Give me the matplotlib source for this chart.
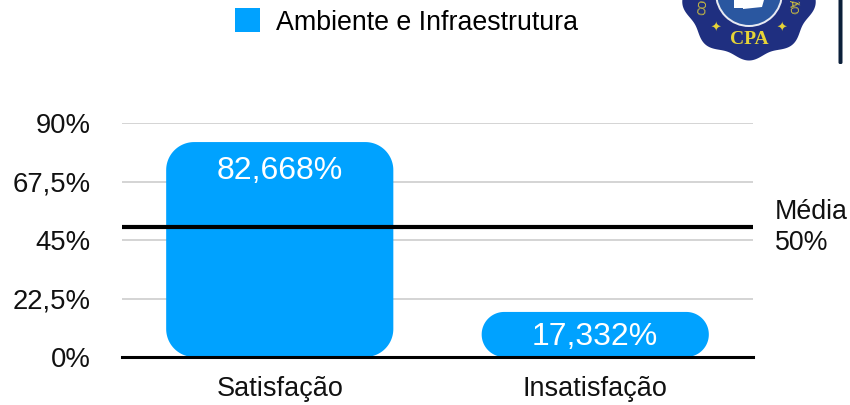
# plot.py
import numpy as np
import matplotlib

matplotlib.use('Agg')
import matplotlib.pyplot as plt
from matplotlib.patches import FancyBboxPatch, Patch, Circle, Polygon, Rectangle

plt.rcParams['font.family'] = ['Liberation Sans', 'DejaVu Sans']

categories = ["Satisfação", "Insatisfação"]
values = [82.668, 17.332]
value_labels = ["82,668%", "17,332%"]
y_ticks = [0, 22.5, 45, 67.5, 90]
y_tick_labels = ["0%", "22,5%", "45%", "67,5%", "90%"]
media = 50
legend_label = "Ambiente e Infraestrutura"
media_label = "Média\n50%"

BLUE = "#00a2ff"
W, H = 850, 405
# axes box in reference pixels
AX_L, AX_R, AX_T, AX_B = 122, 753, 123, 357
BAR_W = 0.72

fig = plt.figure(figsize=(W / 100, H / 100), dpi=100, facecolor="white")
ax = fig.add_axes([AX_L / W, 1 - AX_B / H, (AX_R - AX_L) / W, (AX_B - AX_T) / H])
ax.set_xlim(-0.5, 1.5)
ax.set_ylim(0, 90)

px_x = (AX_R - AX_L) / 2
px_y = (AX_B - AX_T) / 90

ax.set_yticks(y_ticks)
ax.set_yticklabels(y_tick_labels, fontsize=19.8, color="#111111")
ax.set_xticks(range(len(categories)))
ax.set_xticklabels(categories, fontsize=19.5, color="#111111")
ax.tick_params(axis="both", length=0)
ax.tick_params(axis="y", pad=22.5)
ax.tick_params(axis="x", pad=13.5)
ax.grid(axis="y", color="#c9c9c9", lw=1.1, zorder=0)
ax.set_axisbelow(True)
for s in ax.spines.values():
    s.set_visible(False)
ax.spines["bottom"].set_visible(True)
ax.spines["bottom"].set_linewidth(2.2)
ax.spines["bottom"].set_color("black")


def rounded_bar(center, height, width, r_px):
    # outline with circular corners, r_px is the corner radius in pixels
    rx = r_px / px_x
    ry = r_px / px_y
    left, right = center - width / 2, center + width / 2
    corners = [(right - rx, height - ry, 0, 90), (left + rx, height - ry, 90, 180),
               (left + rx, ry, 180, 270), (right - rx, ry, 270, 360)]
    pts = []
    for cx_, cy_, a0, a1 in corners:
        t = np.radians(np.linspace(a0, a1, 30))
        pts.append(np.c_[cx_ + rx * np.cos(t), cy_ + ry * np.sin(t)])
    return np.vstack(pts)


radii = [28, 22.5]
for i, (v, r) in enumerate(zip(values, radii)):
    ax.add_patch(Polygon(rounded_bar(i, v, BAR_W, r), fc=BLUE, ec="none",
                         zorder=2, clip_on=False))

ax.text(0, values[0] - 11, value_labels[0], color="white", fontsize=23,
        ha="center", va="center", zorder=3)
ax.text(1, values[1] / 2 - 0.9, value_labels[1], color="white", fontsize=23,
        ha="center", va="center", zorder=3)

ax.axhline(media, color="black", lw=3, zorder=4, solid_capstyle="butt")
ax.text(1.57, media, media_label, fontsize=19.3, color="#111111", ha="left",
        va="center", linespacing=1.25, clip_on=False)

fig.legend(handles=[Patch(fc=BLUE, ec="none", label=legend_label)],
           loc="center left", bbox_to_anchor=(211 / W, 1 - 22 / H), frameon=False,
           fontsize=19.3, handlelength=0.92, handleheight=1.0, handletextpad=0.62)

# logo cut off by the top edge, drawn in pixel coordinates
ov = fig.add_axes([0, 0, 1, 1], facecolor="none")
ov.set_xlim(0, W)
ov.set_ylim(H, 0)
ov.axis("off")
cx, cy = 749, -7
theta = np.linspace(0, 2 * np.pi, 720)
rad = 65 + 2.5 * np.cos(9 * (theta - np.pi / 2))
ov.add_patch(Polygon(np.c_[cx + rad * np.cos(theta), cy + rad * np.sin(theta)],
                     fc="#1f2f80", ec="none"))
ov.add_patch(Circle((cx, cy), 34, fc="#e8eaf2", ec="none"))
ov.add_patch(Circle((cx, cy), 32, fc="#2a57a0", ec="none"))
ov.add_patch(Rectangle((734, 0), 9, 8, fc="white", ec="none"))
ov.add_patch(Polygon([(743, 0), (764, 0), (762, 7), (743, 9)], fc="white", ec="none"))
ov.text(749, 39, "CPA", family="Liberation Serif", weight="bold", fontsize=14,
        color="#e6d437", ha="center", va="center")
for sx in (-33, 33):
    ov.text(cx + sx, 28, "✦", family="DejaVu Sans", fontsize=9, color="#e6d437",
            ha="center", va="center")
ov.text(703, 7, "CO", fontsize=7.5, color="#e6d437", rotation=85, ha="center", va="center")
ov.text(793, 7, "ÃO", fontsize=7.5, color="#e6d437", rotation=-85, ha="center", va="center")

# dark bar on the right edge
ov.add_patch(FancyBboxPatch((838.5, -5), 4, 69, boxstyle="round,pad=0,rounding_size=1.5",
                            fc="#0b1f3a", ec="none"))

fig.savefig("out.png", dpi=100, facecolor="white")
